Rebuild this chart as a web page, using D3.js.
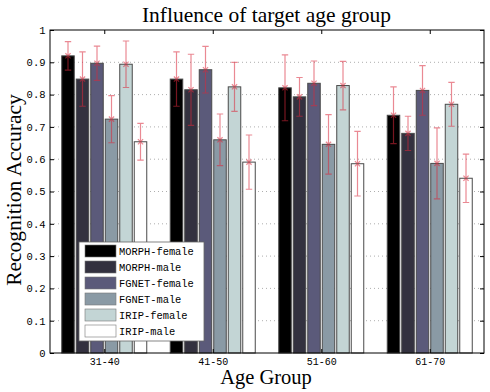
<!DOCTYPE html>
<html>
<head>
<meta charset="utf-8">
<script src="https://cdn.jsdelivr.net/npm/d3@7"></script>
<style>
body { margin: 0; background: #fff; }
</style>
</head>
<body>
<div id="chart"></div>
<script>
var groups = ["31-40", "41-50", "51-60", "61-70"];
var series = ["MORPH-female", "MORPH-male", "FGNET-female", "FGNET-male", "IRIP-female", "IRIP-male"];
var colors = ["#000000", "#33313f", "#5b5a7a", "#8a9aa5", "#c3d5d5", "#ffffff"];
// accuracy per series, one value per age group
var means = [
    [0.920, 0.848, 0.821, 0.736],
    [0.848, 0.815, 0.793, 0.680],
    [0.897, 0.877, 0.835, 0.813],
    [0.724, 0.660, 0.646, 0.587],
    [0.894, 0.824, 0.828, 0.770],
    [0.654, 0.591, 0.586, 0.541]
];
var errs = [
    [0.044, 0.084, 0.102, 0.088],
    [0.084, 0.110, 0.060, 0.053],
    [0.053, 0.072, 0.069, 0.077],
    [0.073, 0.080, 0.092, 0.110],
    [0.072, 0.076, 0.075, 0.068],
    [0.057, 0.084, 0.100, 0.075]
];
var yTicks = [0, 0.1, 0.2, 0.3, 0.4, 0.5, 0.6, 0.7, 0.8, 0.9, 1];

function main() {
    var W = 490, H = 392;
    var left = 50, right = 484, top = 30, bottom = 353;

    var svg = d3.select("#chart").append("svg")
        .attr("width", W).attr("height", H);

    var x = d3.scaleLinear().domain([0.5, 4.5]).range([left, right]);
    var y = d3.scaleLinear().domain([0, 1]).range([bottom, top]);
    var step = 14.5, bw = 12.5;

    // dotted grid
    svg.append("g").selectAll("line")
        .data(yTicks.slice(1, -1))
        .enter().append("line")
        .attr("x1", left).attr("x2", right)
        .attr("y1", function(d) { return y(d); })
        .attr("y2", function(d) { return y(d); })
        .attr("stroke", "#999").attr("stroke-width", 0.8)
        .attr("stroke-dasharray", "1,3");

    var rows = [];
    series.forEach(function(s, i) {
        groups.forEach(function(g, j) {
            rows.push({ s: i, g: j, v: means[i][j], e: errs[i][j] });
        });
    });
    function bx(d) { return x(d.g + 1) + (d.s - 2.5) * step; }

    svg.append("g").selectAll("rect")
        .data(rows)
        .enter().append("rect")
        .attr("x", function(d) { return bx(d) - bw / 2; })
        .attr("y", function(d) { return y(d.v); })
        .attr("width", bw)
        .attr("height", function(d) { return y(0) - y(d.v); })
        .attr("fill", function(d) { return colors[d.s]; })
        .attr("stroke", "#4a4a4a").attr("stroke-width", 1);

    // error bars
    var eb = svg.append("g").attr("stroke", "#d8283a").attr("stroke-opacity", 0.55)
        .attr("stroke-width", 1.2).attr("fill", "none");
    eb.selectAll("path")
        .data(rows)
        .enter().append("path")
        .attr("d", function(d) {
            var cx = bx(d), y1 = y(d.v + d.e), y2 = y(d.v - d.e), ym = y(d.v), c = 3.2, m = 2.6;
            return "M" + cx + "," + y1 + "V" + y2 +
                "M" + (cx - c) + "," + y1 + "H" + (cx + c) +
                "M" + (cx - c) + "," + y2 + "H" + (cx + c) +
                "M" + (cx - m) + "," + (ym - m) + "L" + (cx + m) + "," + (ym + m) +
                "M" + (cx - m) + "," + (ym + m) + "L" + (cx + m) + "," + (ym - m);
        });

    // frame and ticks
    svg.append("rect").attr("x", left).attr("y", top)
        .attr("width", right - left).attr("height", bottom - top)
        .attr("fill", "none").attr("stroke", "#000").attr("stroke-width", 1);

    var yl = d3.axisLeft(y).tickValues(yTicks).tickSize(-4).tickPadding(4.5)
        .tickFormat(function(d) { return d === 0 || d === 1 ? d : d3.format(".1f")(d); });
    var ga = svg.append("g").attr("transform", "translate(" + left + ",0)").call(yl);
    var yr = d3.axisRight(y).tickValues(yTicks).tickSize(-4).tickFormat("");
    var gr = svg.append("g").attr("transform", "translate(" + right + ",0)").call(yr);
    var xb = d3.axisBottom(x).tickValues([1, 2, 3, 4]).tickSize(-4).tickPadding(5)
        .tickFormat(function(d) { return groups[d - 1]; });
    var gb = svg.append("g").attr("transform", "translate(0," + bottom + ")").call(xb);
    var xt = d3.axisTop(x).tickValues([1, 2, 3, 4]).tickSize(-4).tickFormat("");
    var gt = svg.append("g").attr("transform", "translate(0," + top + ")").call(xt);
    [ga, gr, gb, gt].forEach(function(g) {
        g.select(".domain").remove();
        g.selectAll("text").attr("font-family", "Liberation Mono").attr("font-size", 10).attr("fill", "#000");
    });
    ga.selectAll("text").attr("font-size", 10.5);

    // titles
    svg.append("text").attr("x", 266.5).attr("y", 22).attr("text-anchor", "middle")
        .attr("font-family", "Liberation Serif").attr("font-size", 21.5)
        .text("Influence of target age group");
    svg.append("text").attr("x", 266).attr("y", 384).attr("text-anchor", "middle")
        .attr("font-family", "Liberation Serif").attr("font-size", 20.5)
        .text("Age Group");
    svg.append("text").attr("transform", "translate(21,190) rotate(-90)").attr("text-anchor", "middle")
        .attr("font-family", "Liberation Serif").attr("font-size", 21.5)
        .text("Recognition Accuracy");

    // legend
    var lg = svg.append("g").attr("transform", "translate(79,242)");
    lg.append("rect").attr("width", 125).attr("height", 99)
        .attr("fill", "#fff").attr("stroke", "#666").attr("stroke-width", 0.8);
    var li = lg.selectAll("g.item").data(series).enter().append("g")
        .attr("transform", function(d, i) { return "translate(6," + (3 + i * 16) + ")"; });
    li.append("rect").attr("width", 31).attr("height", 12)
        .attr("fill", function(d, i) { return colors[i]; })
        .attr("stroke", "#777").attr("stroke-width", 0.6);
    li.append("text").attr("x", 34).attr("y", 9.5)
        .attr("font-family", "Liberation Mono").attr("font-size", 10.4)
        .text(function(d) { return d; });
}

main();
</script>
</body>
</html>
